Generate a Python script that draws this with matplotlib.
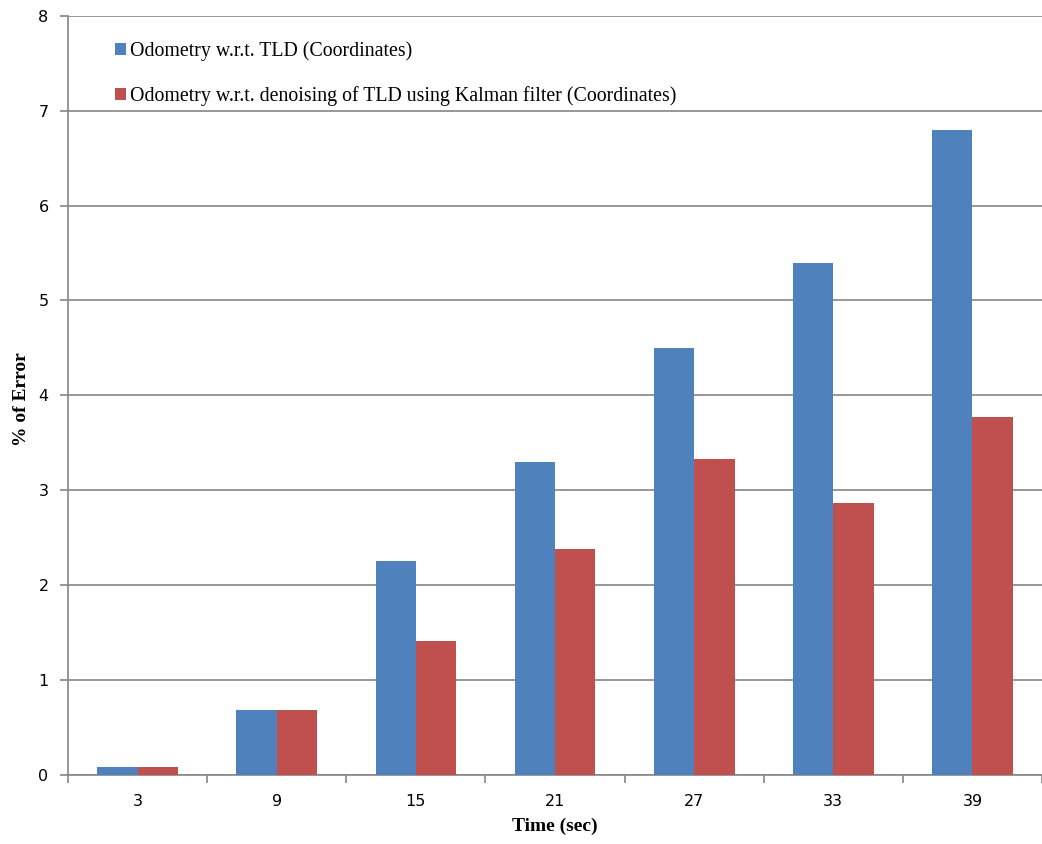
import numpy as np
import matplotlib
matplotlib.use("Agg")
import matplotlib.pyplot as plt

# Error percentages over time
times = ["3", "9", "15", "21", "27", "33", "39"]
tld_error = [0.08, 0.68, 2.25, 3.30, 4.50, 5.40, 6.80]
kalman_error = [0.08, 0.68, 1.41, 2.38, 3.33, 2.86, 3.77]
series_labels = [
    "Odometry w.r.t. TLD (Coordinates)",
    "Odometry w.r.t. denoising of TLD using Kalman filter (Coordinates)",
]

blue = "#4F81BD"
red = "#C0504D"
grid_gray = "#868686"

fig = plt.figure(figsize=(10.42, 8.44), dpi=100)
ax = fig.add_axes([0.0653, 0.0821, 0.9347, 0.8990])

x = np.arange(len(times))
w = 0.29
ax.bar(x - w / 2, tld_error, width=w, color=blue, label=series_labels[0], zorder=3)
ax.bar(x + w / 2, kalman_error, width=w, color=red, label=series_labels[1], zorder=3)

ax.set_xlim(-0.5, len(times) - 0.5)
ax.set_ylim(0, 8)
ax.set_yticks(range(0, 9))
ax.yaxis.grid(True, color=grid_gray, linewidth=1.2, zorder=0)
ax.set_axisbelow(True)

# category ticks on boundaries, labels at centers
ax.set_xticks(np.arange(-0.5, len(times), 1.0))
ax.set_xticklabels([])
ax.set_xticks(x, minor=True)
ax.set_xticklabels(times, minor=True, fontsize=11.5, family="DejaVu Sans")
ax.tick_params(axis="x", which="major", length=6, color=grid_gray, width=1.2)
ax.tick_params(axis="x", which="minor", length=0, pad=14)
ax.tick_params(axis="y", length=6, color=grid_gray, width=1.2, labelsize=11.5, pad=8)
for lbl in ax.get_yticklabels():
    lbl.set_family("DejaVu Sans")

for s in ["top", "right"]:
    ax.spines[s].set_visible(False)
for s in ["left", "bottom"]:
    ax.spines[s].set_color(grid_gray)
    ax.spines[s].set_linewidth(1.2)

ax.set_xlabel("Time (sec)", family="Liberation Serif", fontweight="bold", fontsize=14, labelpad=6)
ax.set_ylabel("% of Error", family="Liberation Serif", fontweight="bold", fontsize=14)
ax.yaxis.set_label_coords(-0.039, 0.495)

leg = ax.legend(loc="upper left", bbox_to_anchor=(0.03, 0.99), frameon=False,
                prop={"family": "Liberation Serif", "size": 14.3},
                handlelength=0.55, handleheight=0.55, handletextpad=0.2,
                labelspacing=1.25)

fig.savefig("out.png", dpi=100)
